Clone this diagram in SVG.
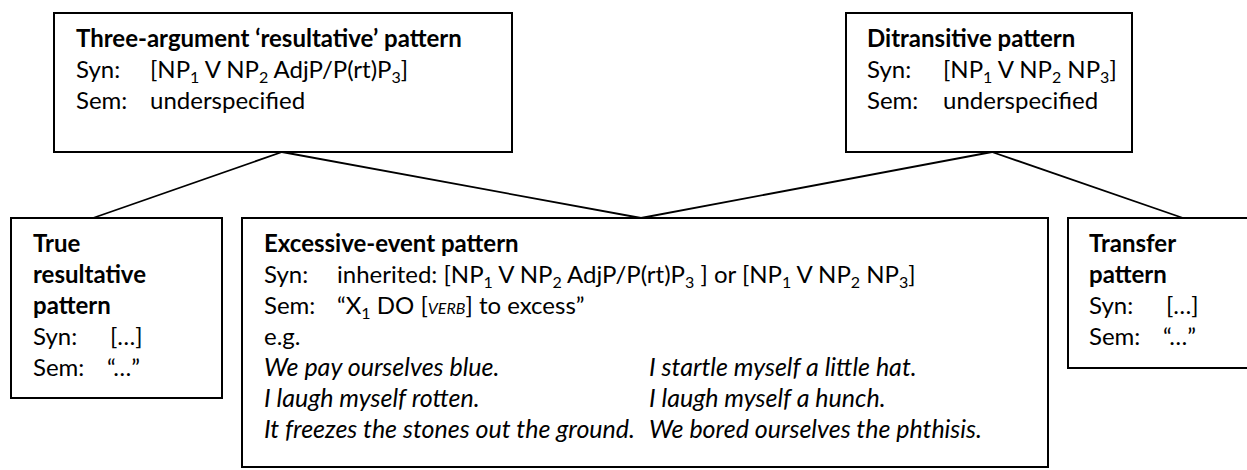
<svg xmlns="http://www.w3.org/2000/svg" width="1247" height="470" viewBox="0 0 1247 470">
<style>
  .box { fill: #fff; stroke: #000; stroke-width: 2; }
  .edge { stroke: #000; stroke-width: 1.8; fill: none; }
  text { font-family: Lato, "Liberation Sans", sans-serif; font-size: 24px; fill: #000; }
  .b { font-weight: bold; }
  .i { font-style: italic; font-size: 25px; }
  .sub { font-size: 16px; }
  .sc { font-size: 16px; font-style: italic; }
</style>
<rect width="1247" height="470" fill="#fff"/>
<g id="connectors">
  <line class="edge" x1="282" y1="152" x2="93" y2="218"/>
  <line class="edge" x1="282" y1="152" x2="641" y2="218"/>
  <line class="edge" x1="992" y1="152" x2="641" y2="218"/>
  <line class="edge" x1="992" y1="152" x2="1183" y2="218"/>
</g>
<g id="node-three-argument">
  <rect class="box" x="54" y="13" width="458" height="139"/>
  <text class="b" x="76" y="47">Three-argument ‘resultative’ pattern</text>
  <text x="76" y="78">Syn:</text>
  <text x="150" y="78">[NP<tspan class="sub" dy="5">1</tspan><tspan dy="-5"> V NP</tspan><tspan class="sub" dy="5">2</tspan><tspan dy="-5"> AdjP/P(rt)P</tspan><tspan class="sub" dy="5">3</tspan><tspan dy="-5">]</tspan></text>
  <text x="76" y="109">Sem:</text>
  <text x="150" y="109">underspecified</text>
</g>
<g id="node-ditransitive">
  <rect class="box" x="846" y="13" width="286" height="139"/>
  <text class="b" x="867" y="47">Ditransitive pattern</text>
  <text x="867" y="78">Syn:</text>
  <text x="943" y="78">[NP<tspan class="sub" dy="5">1</tspan><tspan dy="-5"> V NP</tspan><tspan class="sub" dy="5">2</tspan><tspan dy="-5"> NP</tspan><tspan class="sub" dy="5">3</tspan><tspan dy="-5">]</tspan></text>
  <text x="867" y="109">Sem:</text>
  <text x="943" y="109">underspecified</text>
</g>
<g id="node-true-resultative">
  <rect class="box" x="11" y="218" width="211" height="180"/>
  <text class="b" x="33" y="252">True</text>
  <text class="b" x="33" y="283">resultative</text>
  <text class="b" x="33" y="314">pattern</text>
  <text x="33" y="345">Syn:</text>
  <text x="110" y="345">[…]</text>
  <text x="33" y="376">Sem:</text>
  <text x="107" y="376">“…”</text>
</g>
<g id="node-excessive-event">
  <rect class="box" x="242" y="218" width="806" height="249"/>
  <text class="b" x="264" y="252">Excessive-event pattern</text>
  <text x="264" y="283">Syn:</text>
  <text x="337" y="283">inherited: [NP<tspan class="sub" dy="5">1</tspan><tspan dy="-5"> V NP</tspan><tspan class="sub" dy="5">2</tspan><tspan dy="-5"> AdjP/P(rt)P</tspan><tspan class="sub" dy="5">3</tspan><tspan dy="-5"> ] or [NP</tspan><tspan class="sub" dy="5">1</tspan><tspan dy="-5"> V NP</tspan><tspan class="sub" dy="5">2</tspan><tspan dy="-5"> NP</tspan><tspan class="sub" dy="5">3</tspan><tspan dy="-5">]</tspan></text>
  <text x="264" y="314">Sem:</text>
  <text x="337" y="314">“X<tspan class="sub" dy="5">1</tspan><tspan dy="-5"> DO [</tspan><tspan class="sc">VERB</tspan>] to excess”</text>
  <text x="264" y="345">e.g.</text>
  <text class="i" x="264" y="376">We pay ourselves blue.</text>
  <text class="i" x="264" y="407">I laugh myself rotten.</text>
  <text class="i" x="264" y="438">It freezes the stones out the ground.</text>
  <text class="i" x="649" y="376">I startle myself a little hat.</text>
  <text class="i" x="649" y="407">I laugh myself a hunch.</text>
  <text class="i" x="649" y="438">We bored ourselves the phthisis.</text>
</g>
<g id="node-transfer">
  <rect class="box" x="1068" y="218" width="200" height="150"/>
  <text class="b" x="1089" y="252">Transfer</text>
  <text class="b" x="1089" y="283">pattern</text>
  <text x="1089" y="314">Syn:</text>
  <text x="1166" y="314">[…]</text>
  <text x="1089" y="345">Sem:</text>
  <text x="1163" y="345">“…”</text>
</g>
</svg>
